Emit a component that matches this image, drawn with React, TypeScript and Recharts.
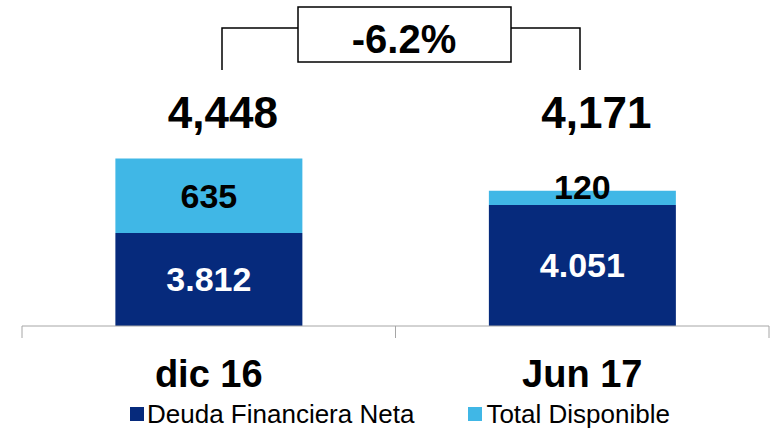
import { Bar, BarChart, LabelList, Legend, XAxis, YAxis } from 'recharts'

const categories = ['dic 16', 'Jun 17']
const deudaNeta = [3812, 4051]
const totalDisponible = [635, 120]
const totals = [4448, 4171]
const variation = '-6.2%'

const NAVY = '#062A7C'
const SKY = '#40B7E6'
const AXIS = '#A6A6A6'
const FONT = '"Liberation Sans", Arial, sans-serif'

const data = categories.map((name, i) => ({
	name,
	deuda: deudaNeta[i],
	disponible: totalDisponible[i],
	total: totals[i],
}))

// 3812 -> "3.812"
const fmtDot = (v: number) => String(v).replace(/\B(?=(\d{3})+(?!\d))/g, '.')
const fmtComma = (v: number) => String(v).replace(/\B(?=(\d{3})+(?!\d))/g, ',')

const DeudaLabel = (props: any) => {
	const { x, y, width, height, value } = props
	return (
		<text
			x={x + width / 2}
			y={y + height / 2}
			dy={12}
			textAnchor='middle'
			fill='#fff'
			fontFamily={FONT}
			fontWeight='bold'
			fontSize={34}
		>
			{fmtDot(value)}
		</text>
	)
}

const DisponibleLabel = (props: any) => {
	const { x, y, width, height, value } = props
	// small segments get their number pushed up over the top edge
	const cy = height < 30 ? y - 4 : y + height / 2
	return (
		<text
			x={x + width / 2}
			y={cy}
			dy={12}
			textAnchor='middle'
			fill='#000'
			fontFamily={FONT}
			fontWeight='bold'
			fontSize={34}
		>
			{value}
		</text>
	)
}

const TotalLabel = (props: any) => {
	const { x, width, index } = props
	return (
		<text
			x={x + width / 2 + 14}
			y={128}
			textAnchor='middle'
			fill='#000'
			fontFamily={FONT}
			fontWeight='bold'
			fontSize={44}
		>
			{fmtComma(totals[index])}
		</text>
	)
}

// label in the middle of the band, tick marks on the band edges
const CategoryTick = (props: any) => {
	const { x, y, payload } = props
	const half = payload.offset || 0
	return (
		<g>
			<line x1={x - half} x2={x - half} y1={y} y2={y + 12} stroke={AXIS} />
			<line x1={x + half} x2={x + half} y1={y} y2={y + 12} stroke={AXIS} />
			<text
				x={x}
				y={y}
				dy={61}
				textAnchor='middle'
				fill='#000'
				fontFamily={FONT}
				fontWeight='bold'
				fontSize={38}
			>
				{payload.value}
			</text>
		</g>
	)
}

const LegendContent = () => (
	<div
		style={{
			height: 32,
			display: 'flex',
			alignItems: 'center',
			paddingLeft: 108,
			fontFamily: FONT,
			fontSize: 26,
			color: '#000',
		}}
	>
		<span style={{ width: 14, height: 14, background: NAVY, marginRight: 3 }} />
		<span>Deuda Financiera Neta</span>
		<span style={{ width: 14, height: 14, background: SKY, marginLeft: 54, marginRight: 4 }} />
		<span>Total Disponible</span>
	</div>
)

const Bracket = () => (
	<svg width={771} height={90} style={{ position: 'absolute', left: 0, top: 0, pointerEvents: 'none' }}>
		<g stroke='#000' strokeWidth={1.5} fill='none'>
			<polyline points='222,70 222,28 298,28' />
			<polyline points='511,28 580,28 580,70' />
			<rect x={298} y={7} width={213} height={55} fill='#fff' />
		</g>
		<text x={404} y={53} textAnchor='middle' fontFamily={FONT} fontWeight='bold' fontSize={40}>
			{variation}
		</text>
	</svg>
)

const App = () => {
	return (
		<div style={{ position: 'absolute', left: 0, top: 0, width: 771, height: 430, background: '#fff' }}>
			<BarChart
				width={771}
				height={430}
				data={data}
				margin={{ top: 35, right: 2, bottom: 0, left: 22 }}
				barCategoryGap='25%'
			>
				<XAxis
					dataKey='name'
					stroke={AXIS}
					tickLine={false}
					tickSize={0}
					tickMargin={0}
					height={72}
					interval={0}
					tick={<CategoryTick />}
				/>
				<YAxis hide domain={[3018, 5500]} allowDataOverflow />
				<Legend verticalAlign='bottom' content={<LegendContent />} />
				<Bar dataKey='deuda' name='Deuda Financiera Neta' stackId='a' fill={NAVY} isAnimationActive={false}>
					<LabelList dataKey='deuda' content={<DeudaLabel />} />
				</Bar>
				<Bar dataKey='disponible' name='Total Disponible' stackId='a' fill={SKY} isAnimationActive={false}>
					<LabelList dataKey='disponible' content={<DisponibleLabel />} />
					<LabelList dataKey='total' content={<TotalLabel />} />
				</Bar>
			</BarChart>
			<Bracket />
		</div>
	)
}

export default App
